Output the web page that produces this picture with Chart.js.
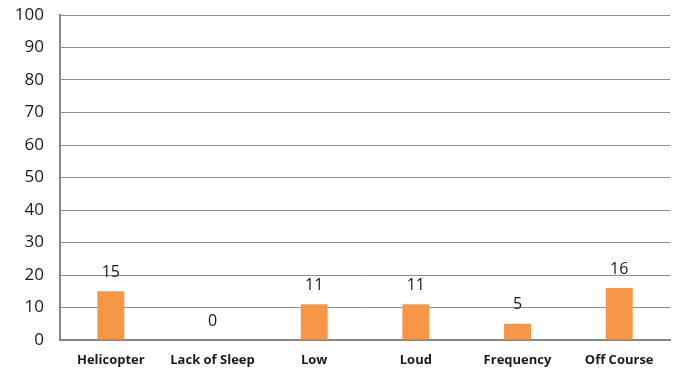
<!DOCTYPE html>
<html>
<head>
<meta charset="utf-8">
<script src="https://cdn.jsdelivr.net/npm/chart.js@4"></script>
<style>
  html, body { margin: 0; padding: 0; background: #fff; }
  #wrap { width: 679px; height: 370px; }
</style>
</head>
<body>
<div id="wrap"><canvas id="c" width="679" height="370"></canvas></div>
<script>
const categories = ['Helicopter', 'Lack of Sleep', 'Low', 'Loud', 'Frequency', 'Off Course'];
const counts = [15, 0, 11, 11, 5, 16];
const yTicks = [0, 10, 20, 30, 40, 50, 60, 70, 80, 90, 100];

// writes each bar's value above it
const valueLabels = {
  id: 'valueLabels',
  afterDatasetsDraw(chart) {
    const ctx = chart.ctx;
    const meta = chart.getDatasetMeta(0);
    ctx.save();
    ctx.font = '16px "Open Sans", sans-serif';
    ctx.fillStyle = '#1a1a1a';
    ctx.textAlign = 'center';
    ctx.textBaseline = 'middle';
    meta.data.forEach((bar, i) => {
      ctx.fillText(String(counts[i]), bar.x, bar.y - 19);
    });
    ctx.restore();
  }
};

new Chart(document.getElementById('c'), {
  type: 'bar',
  data: {
    labels: categories,
    datasets: [{
      data: counts,
      backgroundColor: '#F79646',
      borderWidth: 0,
      barPercentage: 0.265,
      categoryPercentage: 1.0
    }]
  },
  options: {
    responsive: false,
    animation: false,
    layout: { padding: { top: 15, right: 9, bottom: 0, left: 0 } },
    plugins: { legend: { display: false }, tooltip: { enabled: false } },
    scales: {
      x: {
        grid: { display: false, drawTicks: false },
        border: { color: '#868686', width: 2 },
        ticks: {
          color: '#1a1a1a',
          font: { family: '"Open Sans", sans-serif', size: 13, weight: 'bold' },
          padding: 12,
          maxRotation: 0,
          autoSkip: false
        },
        afterFit(scale) { scale.height = 30; scale.paddingLeft = 0; scale.paddingRight = 0; }
      },
      y: {
        min: 0,
        max: 100,
        afterBuildTicks(scale) { scale.ticks = yTicks.map(v => ({ value: v })); },
        grid: { color: '#8c8c8c', lineWidth: 1, drawTicks: false },
        border: { color: '#868686', width: 2 },
        ticks: {
          color: '#1a1a1a',
          font: { family: '"Open Sans", sans-serif', size: 17 },
          padding: 16
        },
        afterFit(scale) { scale.width = 60; scale.paddingTop = 0; scale.paddingBottom = 0; }
      }
    }
  },
  plugins: [valueLabels]
});
</script>
</body>
</html>
